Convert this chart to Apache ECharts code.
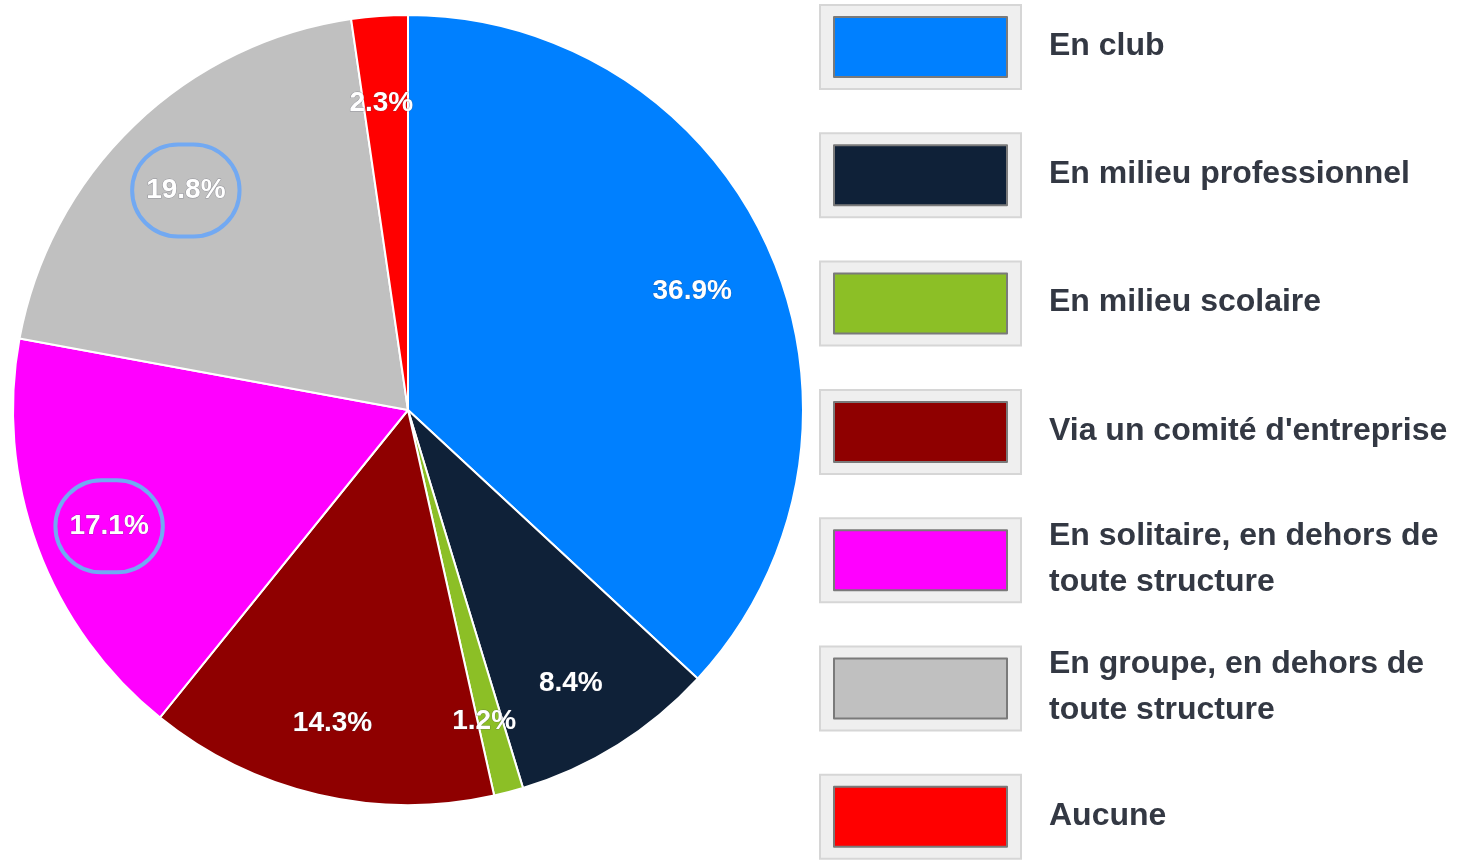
<!DOCTYPE html>
<html>
<head>
<meta charset="utf-8">
<script src="https://cdn.jsdelivr.net/npm/echarts@6/dist/echarts.min.js"></script>
<style>
  html, body { margin: 0; padding: 0; background: #fff; }
  #main { width: 1461px; height: 866px; }
</style>
</head>
<body>
<div id="main"></div>
<script>
const categories = [
  'En club',
  'En milieu professionnel',
  'En milieu scolaire',
  "Via un comité d'entreprise",
  'En solitaire, en dehors de toute structure',
  'En groupe, en dehors de toute structure',
  'Aucune'
];
const shares = [36.9, 8.4, 1.2, 14.3, 17.1, 19.8, 2.3];
const colors = ['#0080ff', '#0f2138', '#8cbf26', '#8f0000', '#ff00ff', '#c0c0c0', '#ff0000'];
const circled = ['En solitaire, en dehors de toute structure', 'En groupe, en dehors de toute structure'];

const chartDom = document.getElementById('main');
const myChart = echarts.init(chartDom);

const pieCenter = [408, 410];
const pieRadius = 395;

const mainData = categories.map((name, i) => ({
  name: name,
  value: shares[i],
  itemStyle: { color: colors[i] }
}));

// transparent ring, only used to put labels at ~80% of the radius
const labelData = categories.map((name, i) => {
  const item = { name: name, value: shares[i] };
  if (circled.indexOf(name) >= 0) {
    item.label = {
      borderColor: '#72a9f2',
      borderWidth: 4,
      borderRadius: 52,
      padding: [32, 14],
      lineHeight: 28
    };
  }
  return item;
});

const legends = [];
categories.forEach((name, i) => {
  const cy = 46 + i * 128.3;
  // outer grey box + coloured swatch
  legends.push({
    data: [name],
    orient: 'vertical',
    left: 820,
    top: cy - 41,
    padding: [11, 13, 11, 13],
    backgroundColor: '#efefef',
    borderColor: '#d6d6d6',
    borderWidth: 2,
    icon: 'rect',
    itemWidth: 173,
    itemHeight: 60,
    itemStyle: { borderColor: '#7a7a7a', borderWidth: 2 },
    formatter: () => '',
    selectedMode: false
  });
  // label text
  const lines = name.length > 30 ? 2 : 1;
  legends.push({
    data: [name],
    orient: 'vertical',
    left: 1043,
    top: cy - lines * 23,
    padding: 0,
    itemWidth: 0,
    itemHeight: 0,
    itemStyle: { opacity: 0 },
    selectedMode: false,
    textStyle: {
      fontFamily: 'Liberation Sans, Arial, sans-serif',
      fontWeight: 'bold',
      fontSize: 32,
      lineHeight: 46,
      color: '#333843',
      width: 418,
      overflow: 'break'
    }
  });
});

const option = {
  animation: false,
  legend: legends,
  series: [
    {
      name: 'main',
      type: 'pie',
      center: pieCenter,
      radius: [0, pieRadius],
      startAngle: 90,
      clockwise: true,
      label: { show: false },
      labelLine: { show: false },
      itemStyle: { borderColor: '#ffffff', borderWidth: 2 },
      emphasis: { disabled: true },
      data: mainData
    },
    {
      name: 'labels',
      type: 'pie',
      silent: true,
      center: pieCenter,
      radius: [228, pieRadius],
      startAngle: 90,
      clockwise: true,
      avoidLabelOverlap: false,
      itemStyle: { color: 'rgba(0,0,0,0)' },
      labelLine: { show: false },
      label: {
        show: true,
        position: 'inside',
        offset: [-4, 7],
        formatter: p => p.value.toFixed(1) + '%',
        color: '#ffffff',
        fontFamily: 'Liberation Sans, Arial, sans-serif',
        fontWeight: 'bold',
        fontSize: 28,
        textBorderColor: 'rgba(60,60,80,0.35)',
        textBorderWidth: 1
      },
      emphasis: { disabled: true },
      data: labelData
    }
  ]
};

myChart.setOption(option);
</script>
</body>
</html>
